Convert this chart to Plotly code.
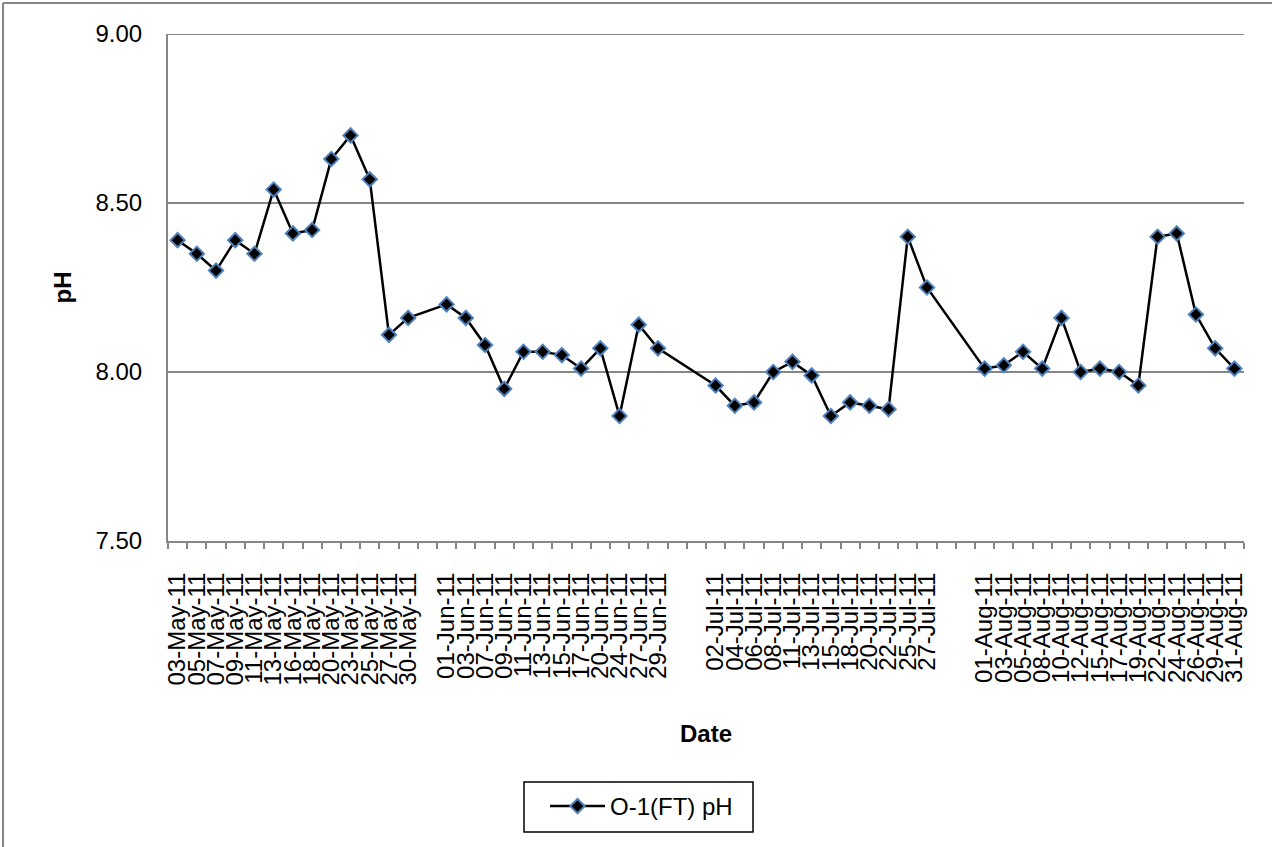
import plotly.graph_objects as go

# Category labels (empty strings are blank categories on the axis)
categories = [
    "03-May-11", "05-May-11", "07-May-11", "09-May-11", "11-May-11", "13-May-11",
    "16-May-11", "18-May-11", "20-May-11", "23-May-11", "25-May-11", "27-May-11",
    "30-May-11", "",
    "01-Jun-11", "03-Jun-11", "07-Jun-11", "09-Jun-11", "11-Jun-11", "13-Jun-11",
    "15-Jun-11", "17-Jun-11", "20-Jun-11", "24-Jun-11", "27-Jun-11", "29-Jun-11",
    "", "",
    "02-Jul-11", "04-Jul-11", "06-Jul-11", "08-Jul-11", "11-Jul-11", "13-Jul-11",
    "15-Jul-11", "18-Jul-11", "20-Jul-11", "22-Jul-11", "25-Jul-11", "27-Jul-11",
    "", "",
    "01-Aug-11", "03-Aug-11", "05-Aug-11", "08-Aug-11", "10-Aug-11", "12-Aug-11",
    "15-Aug-11", "17-Aug-11", "19-Aug-11", "22-Aug-11", "24-Aug-11", "26-Aug-11",
    "29-Aug-11", "31-Aug-11",
]

ph_values = [
    8.39, 8.35, 8.30, 8.39, 8.35, 8.54, 8.41, 8.42, 8.63, 8.70, 8.57, 8.11, 8.16, None,
    8.20, 8.16, 8.08, 7.95, 8.06, 8.06, 8.05, 8.01, 8.07, 7.87, 8.14, 8.07, None, None,
    7.96, 7.90, 7.91, 8.00, 8.03, 7.99, 7.87, 7.91, 7.90, 7.89, 8.40, 8.25, None, None,
    8.01, 8.02, 8.06, 8.01, 8.16, 8.00, 8.01, 8.00, 7.96, 8.40, 8.41, 8.17, 8.07, 8.01,
]

y_ticks = [7.5, 8.0, 8.5, 9.0]
y_tick_labels = ["7.50", "8.00", "8.50", "9.00"]

series_name = "O-1(FT) pH"
y_title = "pH"
x_title = "Date"

positions = list(range(len(categories)))
boundaries = [p - 0.5 for p in range(len(categories) + 1)]

FONT = "Liberation Sans, Arial, sans-serif"
GRID = "#868686"

fig = go.Figure()
fig.add_trace(go.Scatter(
    x=positions,
    y=ph_values,
    mode="lines+markers",
    name=series_name,
    connectgaps=True,
    line=dict(color="black", width=2.5),
    marker=dict(symbol="diamond", size=11, color="black",
                line=dict(color="#4F81BD", width=2)),
))

W, H = 1272, 847
L, R, T, B = 168, 1244, 34, 541


def px(xp):
    return (xp - L) / (R - L)


def py(yp):
    return (B - yp) / (B - T)


fig.update_layout(
    width=W, height=H,
    margin=dict(l=L, r=W - R, t=T, b=H - B, autoexpand=False),
    paper_bgcolor="white",
    plot_bgcolor="white",
    font=dict(family=FONT, size=24, color="black"),
    showlegend=True,
    legend=dict(
        x=px(545), xanchor="left",
        y=py(784), yanchor="top",
        borderwidth=0,
        bgcolor="rgba(0,0,0,0)",
        font=dict(family=FONT, size=24, color="black"),
        itemwidth=55,
    ),
    xaxis=dict(
        range=[-0.5, len(categories) - 0.5],
        tickmode="array",
        tickvals=positions,
        ticktext=categories,
        tickangle=-90,
        ticks="",
        ticklabelstandoff=20,
        tickfont=dict(family=FONT, size=24, color="black"),
        showgrid=False,
        showline=True, linecolor=GRID, linewidth=2,
        zeroline=False,
        minor=dict(tickmode="array", tickvals=boundaries, ticks="outside",
                   ticklen=6, tickwidth=1.5, tickcolor=GRID, showgrid=False),
    ),
    yaxis=dict(
        range=[y_ticks[0], y_ticks[-1]],
        tickmode="array",
        tickvals=y_ticks,
        ticktext=y_tick_labels,
        ticks="",
        ticklabelstandoff=19,
        tickfont=dict(family=FONT, size=24, color="black"),
        showgrid=True, gridcolor=GRID, gridwidth=2,
        showline=True, linecolor=GRID, linewidth=2,
        zeroline=False,
    ),
    annotations=[
        dict(text="<b>" + y_title + "</b>", xref="paper", yref="paper",
             x=px(62), y=0.5, xanchor="center", yanchor="middle",
             textangle=-90, showarrow=False,
             font=dict(family=FONT, size=24, color="black")),
        dict(text="<b>" + x_title + "</b>", xref="paper", yref="paper",
             x=0.5, y=py(733), xanchor="center", yanchor="middle",
             showarrow=False,
             font=dict(family=FONT, size=24, color="black")),
    ],
    shapes=[
        # top gridline (plotly skips gridlines at the range edge)
        dict(type="line", xref="paper", yref="y",
             x0=0, x1=1, y0=y_ticks[-1], y1=y_ticks[-1],
             line=dict(color=GRID, width=2), layer="below"),
        # outer chart border (left and top)
        dict(type="line", xref="paper", yref="paper",
             x0=px(3), x1=px(W), y0=py(3), y1=py(3),
             line=dict(color=GRID, width=2)),
        dict(type="line", xref="paper", yref="paper",
             x0=px(3), x1=px(3), y0=py(3), y1=py(H),
             line=dict(color=GRID, width=2)),
        # legend frame
        dict(type="rect", xref="paper", yref="paper",
             x0=px(524), x1=px(753), y0=py(782), y1=py(832),
             line=dict(color="black", width=1.5), fillcolor="rgba(0,0,0,0)"),
    ],
)

fig.write_html("out.html", config={"displayModeBar": False},
               post_script="document.body.style.margin='0';")
